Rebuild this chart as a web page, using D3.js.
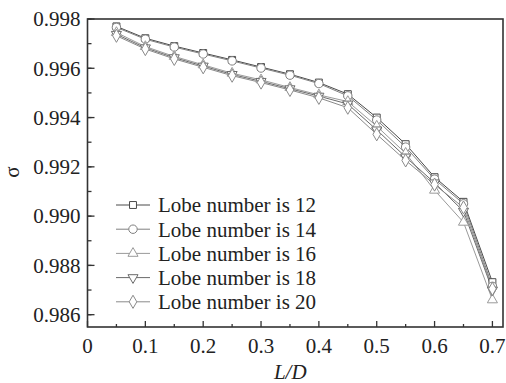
<!DOCTYPE html>
<html><head><meta charset="utf-8">
<script src="https://cdn.jsdelivr.net/npm/d3@7"></script>
<style>body{margin:0;background:#fff}svg{display:block}</style>
</head><body>
<svg id="c" width="506" height="383"></svg>
<script>
const xValues = [0.05,0.10,0.15,0.20,0.25,0.30,0.35,0.40,0.45,0.50,0.55,0.60,0.65,0.70];
const lobe12 = [0.99770,0.99722,0.99690,0.99662,0.99634,0.99605,0.99576,0.99542,0.99495,0.99400,0.99292,0.99158,0.99058,0.98732];
const lobe14 = [0.99766,0.99718,0.99686,0.99658,0.99630,0.99601,0.99572,0.99538,0.99488,0.99390,0.99280,0.99150,0.99050,0.98715];
const lobe16 = [0.99745,0.99688,0.99648,0.99614,0.99580,0.99553,0.99522,0.99492,0.99465,0.99365,0.99255,0.99105,0.98975,0.98660];
const lobe18 = [0.99738,0.99683,0.99643,0.99609,0.99575,0.99547,0.99517,0.99487,0.99455,0.99350,0.99240,0.99135,0.99020,0.98700];
const lobe20 = [0.99732,0.99678,0.99638,0.99604,0.99570,0.99542,0.99512,0.99480,0.99440,0.99332,0.99226,0.99128,0.99035,0.98705];
const seriesNames = ["Lobe number is 12","Lobe number is 14","Lobe number is 16","Lobe number is 18","Lobe number is 20"];
const xTicks = [0,0.1,0.2,0.3,0.4,0.5,0.6,0.7];
const yTicks = [0.986,0.988,0.990,0.992,0.994,0.996,0.998];

const seriesValues = [lobe12, lobe14, lobe16, lobe18, lobe20];
const symbols = [d3.symbolSquare, d3.symbolCircle, d3.symbolTriangle, "tri-down", d3.symbolDiamond];
const colors = ["#4a4a4a","#808080","#9a9a9a","#6a6a6a","#8a8a8a"];
const FONT = "Liberation Serif";

const svg = d3.select("#c");
const L = 87.5, R = 503, T = 19, B = 327;
const x = d3.scaleLinear().domain([0, 0.7183]).range([L, R]);
const y = d3.scaleLinear().domain([0.9855, 0.998]).range([B, T]);

function markerPath(sym, size) {
  if (sym === "tri-down") return d3.symbol(d3.symbolTriangle, size)();
  return d3.symbol(sym, size)();
}
function markerSize(i){ return [48,56,44,44,50][i]; }

seriesValues.forEach((vals, i) => {
  const pts = xValues.map((xv, j) => [xv, vals[j]]);
  svg.append("path").datum(pts)
    .attr("fill","none").attr("stroke",colors[i]).attr("stroke-width",1)
    .attr("d", d3.line().x(d=>x(d[0])).y(d=>y(d[1])));
});
seriesValues.forEach((vals, i) => {
  const pts = xValues.map((xv, j) => [xv, vals[j]]);
  svg.selectAll(null).data(pts).enter().append("path")
    .attr("d", markerPath(symbols[i], markerSize(i)))
    .attr("transform", d => `translate(${x(d[0])},${y(d[1])})${symbols[i]==="tri-down"?" rotate(180)":""}`)
    .attr("fill","#fff").attr("stroke",colors[i]).attr("stroke-width",1);
});

svg.append("rect").attr("x",L).attr("y",T).attr("width",R-L).attr("height",B-T)
  .attr("fill","none").attr("stroke","#333").attr("stroke-width",1.6);

const yMinor = d3.range(0.986, 0.99801, 0.001);
svg.selectAll(null).data(yMinor).enter().append("line")
  .attr("x1",L).attr("x2",L+4).attr("y1",d=>y(d)).attr("y2",d=>y(d)).attr("stroke","#333").attr("stroke-width",1.3);
svg.selectAll(null).data(yTicks).enter().append("line")
  .attr("x1",L).attr("x2",L+7).attr("y1",d=>y(d)).attr("y2",d=>y(d)).attr("stroke","#333").attr("stroke-width",1.3);
svg.selectAll(null).data(yTicks).enter().append("text")
  .attr("x",L-7).attr("y",d=>y(d)).attr("dy","0.35em").attr("text-anchor","end")
  .attr("font-family",FONT).attr("font-size",21).attr("fill","#222")
  .text(d=>d3.format(".3f")(d));

const xMinor = d3.range(0.05, 0.71, 0.1);
svg.selectAll(null).data(xMinor).enter().append("line")
  .attr("x1",d=>x(d)).attr("x2",d=>x(d)).attr("y1",B).attr("y2",B-3).attr("stroke","#333").attr("stroke-width",1.3);
svg.selectAll(null).data(xTicks).enter().append("line")
  .attr("x1",d=>x(d)).attr("x2",d=>x(d)).attr("y1",B).attr("y2",B-6).attr("stroke","#333").attr("stroke-width",1.3);
svg.selectAll(null).data(xTicks).enter().append("text")
  .attr("x",d=>x(d)).attr("y",B+19).attr("dy","0.35em").attr("text-anchor","middle")
  .attr("font-family",FONT).attr("font-size",21).attr("fill","#222")
  .text(d=>d===0?"0":d3.format(".1f")(d));

svg.append("text").attr("x",(L+R)/2 - 5).attr("y",372).attr("dy","0.35em").attr("text-anchor","middle")
  .attr("font-family",FONT).attr("font-size",21).attr("font-style","italic").attr("fill","#222").text("L/D");
svg.append("text").attr("transform","translate(12,172) rotate(-90)").attr("dy","0.35em").attr("text-anchor","middle")
  .attr("font-family",FONT).attr("font-size",21).attr("fill","#222").text("σ");

const legY0 = 205, legDy = 24.2;
seriesNames.forEach((name, i) => {
  const ly = legY0 + i*legDy;
  svg.append("line").attr("x1",116).attr("x2",150).attr("y1",ly).attr("y2",ly)
    .attr("stroke",colors[i]).attr("stroke-width",1);
  svg.append("path").attr("d", markerPath(symbols[i], markerSize(i)))
    .attr("transform",`translate(133,${ly})${symbols[i]==="tri-down"?" rotate(180)":""}`)
    .attr("fill","#fff").attr("stroke",colors[i]).attr("stroke-width",1);
  svg.append("text").attr("x",158).attr("y",ly).attr("dy","0.35em")
    .attr("font-family",FONT).attr("font-size",21).attr("fill","#222").text(name);
});
</script>
</body></html>
